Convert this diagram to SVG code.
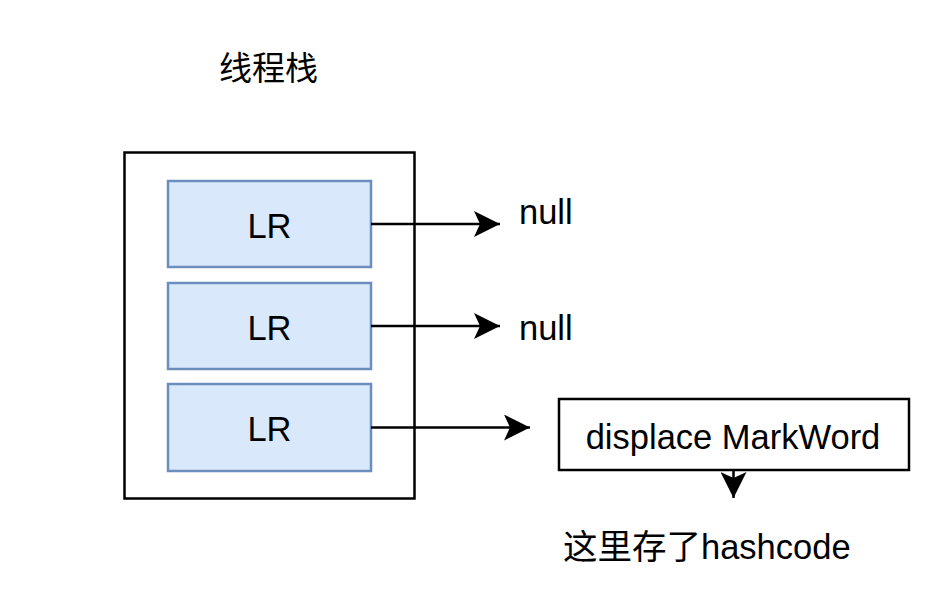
<svg xmlns="http://www.w3.org/2000/svg" width="942" height="610" viewBox="0 0 942 610">
<style>
text{font-family:"Liberation Sans","Noto Sans CJK SC",sans-serif;font-size:34.5px;fill:#000}
.lr{fill:#dae8fc;stroke:#6c8ebf;stroke-width:2.5}
.box{fill:#fff;stroke:#000;stroke-width:2.5}
.conn{stroke:#000;stroke-width:2.5;fill:none}
</style>
<defs>
<marker id="arr" viewBox="0 0 26 26" refX="26" refY="13" markerWidth="26" markerHeight="26" markerUnits="userSpaceOnUse" orient="auto">
<path d="M0,0 L26,13 L0,26 L6,13 Z" fill="#000"/>
</marker>
</defs>
<g id="title"><text x="219" y="80" style="font-size:33px">线程栈</text></g>
<g id="stack"><rect class="box" x="124.5" y="152.5" width="290" height="346"/></g>
<g id="lr1"><rect class="lr" x="168" y="181" width="203" height="86"/><text x="269.5" y="237.5" text-anchor="middle">LR</text></g>
<g id="lr2"><rect class="lr" x="168" y="283" width="203" height="86"/><text x="269.5" y="339.5" text-anchor="middle">LR</text></g>
<g id="lr3"><rect class="lr" x="168" y="384" width="203" height="87"/><text x="269.5" y="441" text-anchor="middle">LR</text></g>
<g id="null1"><text x="519" y="223.5">null</text></g>
<g id="null2"><text x="519" y="339.5">null</text></g>
<g id="markword"><rect class="box" x="559" y="399" width="350" height="71"/><text x="733" y="448.5" text-anchor="middle">displace MarkWord</text></g>
<g id="note"><text x="563" y="558.5">这里存了hashcode</text></g>
<g id="connectors">
<path class="conn" d="M371,224 H500" marker-end="url(#arr)"/>
<path class="conn" d="M371,326 H500" marker-end="url(#arr)"/>
<path class="conn" d="M371,427.5 H530" marker-end="url(#arr)"/>
<path class="conn" d="M733.5,470 V498" marker-end="url(#arr)"/>
</g>
</svg>
